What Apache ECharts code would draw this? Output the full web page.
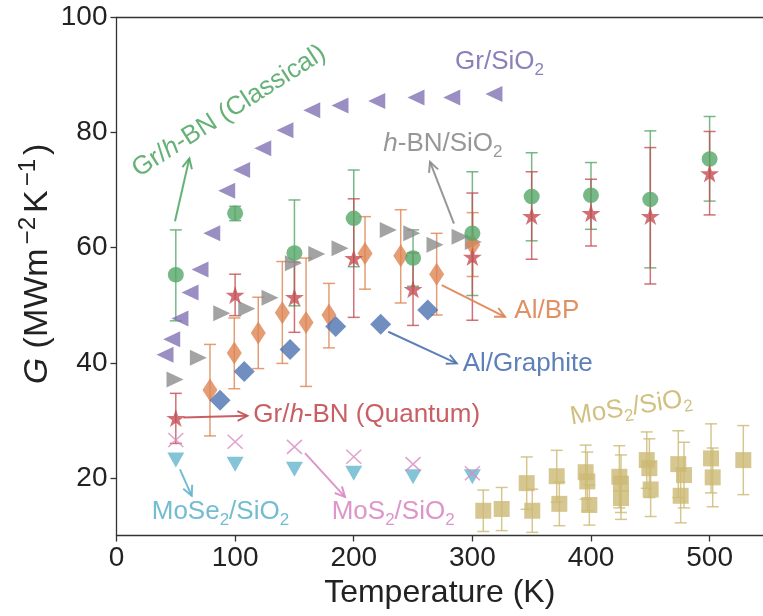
<!DOCTYPE html>
<html><head><meta charset="utf-8">
<script src="https://cdn.jsdelivr.net/npm/echarts@6/dist/echarts.min.js"></script>
<style>html,body{margin:0;padding:0;background:#fff}#c{width:763px;height:616px}</style>
</head><body><div id="c"></div>
<script>
// ---------------- data ----------------
const xTicks = [0, 100, 200, 300, 400, 500];
const yTicks = [20, 40, 60, 80, 100];

// Gr/SiO2 (purple, left triangles)
const grSiO2T = [40.9, 46.5, 53.5, 62.0, 70.4, 80.3, 92.9, 105.5, 123.3, 142.0, 164.6, 188.4, 219.4, 252.5, 282.6, 318.2];
const grSiO2G = [41.4, 44.1, 47.7, 52.2, 56.2, 62.5, 69.9, 73.5, 77.3, 80.4, 83.9, 84.7, 85.5, 86.1, 86.1, 86.7];

// h-BN/SiO2 (gray, right triangles)
const hbnT = [49.3, 69.0, 88.7, 109.8, 129.4, 149.1, 168.8, 188.4, 229.1, 248.9, 268.5, 289.6, 300.8];
const hbnG = [37.1, 40.9, 48.6, 49.4, 51.3, 57.3, 58.9, 59.9, 63.1, 62.5, 60.5, 61.9, 61.0];

// Al/BP (orange, thin diamonds)
const albpT = [78.8, 99.3, 119.5, 139.8, 159.8, 179.1, 209.5, 239.6, 269.9, 300.3];
const albpG = [35.3, 41.7, 45.2, 48.7, 47.0, 48.3, 59.0, 58.6, 55.4, 60.5];
const albpLo = [27.3, 35.5, 39.0, 39.9, 35.9, 42.6, 52.8, 50.4, 48.3, 55.0];
const albpHi = [43.2, 47.8, 51.4, 57.6, 58.2, 53.8, 65.4, 66.6, 62.5, 66.1];

// Al/Graphite (blue diamonds)
const algT = [87.3, 107.7, 146.3, 184.8, 222.7, 262.4];
const algG = [33.5, 38.5, 42.3, 46.3, 46.7, 49.2];

// Gr/h-BN (Classical) (green circles)
const clT = [50, 100, 150, 200, 250, 300, 350, 400, 450, 500];
const clG = [55.3, 66.0, 59.1, 65.1, 58.2, 62.5, 68.9, 69.1, 68.4, 75.4];
const clLo = [47.3, 64.7, 49.9, 56.7, 53.3, 51.7, 61.2, 63.2, 56.5, 68.1];
const clHi = [63.1, 67.2, 68.3, 73.5, 63.1, 73.2, 76.5, 74.8, 80.3, 82.8];

// Gr/h-BN (Quantum) (red stars)
const qtT = [50, 100, 150, 200, 250, 300, 350, 400, 450, 500];
const qtG = [30.4, 51.8, 51.4, 58.2, 52.8, 58.4, 65.5, 66.0, 65.5, 72.9];
const qtLo = [26.0, 48.2, 45.3, 47.9, 46.5, 47.4, 58.0, 60.3, 53.7, 65.7];
const qtHi = [34.7, 55.4, 57.5, 68.5, 59.1, 69.5, 73.2, 71.9, 77.4, 80.2];

// MoSe2/SiO2 (cyan, down triangles)
const mose2T = [50, 100, 150, 200, 250, 300];
const mose2G = [23.1, 22.4, 21.5, 20.8, 20.2, 20.2];

// MoS2/SiO2 low T (pink x)
const mos2LT = [50, 100, 150, 200, 250, 300];
const mos2LG = [26.6, 26.3, 25.4, 23.7, 22.4, 20.8];

// MoS2/SiO2 high T (olive squares)
const mos2HT = [309.2, 324.7, 345.8, 350.5, 371.1, 373.3, 395.5, 396.9, 398.6, 423.9, 425.3, 425.3, 447.0, 449.2, 450.3, 473.6, 478.4, 475.6, 501.2, 502.6, 528.4];
const mos2HG = [14.3, 14.6, 19.1, 14.3, 20.3, 15.5, 21.0, 19.4, 15.3, 20.2, 19.0, 16.5, 23.1, 21.7, 18.0, 22.4, 20.5, 16.9, 23.4, 20.1, 23.1];
const mos2HE = [3.6, 3.75, 4.55, 3.75, 4.5, 3.8, 4.7, 5.1, 3.5, 5.4, 5.0, 3.7, 4.9, 5.1, 4.7, 5.8, 5.7, 4.7, 6.0, 5.1, 6.0];

// axis titles and annotation texts
const xTitle = 'Temperature (K)';
const yTitle = '{it|G} (MWm{sup|\u22122}K{sup|\u22121})';
const labels = {
  classical: 'Gr/{i|h}-BN (Classical)',
  grsio2: 'Gr/SiO{s|2}',
  hbn: '{i|h}-BN/SiO{s|2}',
  albp: 'Al/BP',
  alg: 'Al/Graphite',
  quantum: 'Gr/{i|h}-BN (Quantum)',
  mose2: 'MoSe{s|2}/SiO{s|2}',
  mos2L: 'MoS{s|2}/SiO{s|2}',
  mos2H: 'MoS{s|2}/SiO{s|2}'
};

// ---------------- styling ----------------
const FONT = '"Liberation Sans", Arial, Helvetica, sans-serif';
const C = {
  blue: '#4C72B0', orange: '#DD8452', green: '#55A868', red: '#C44E52',
  purple: '#8172B3', gray: '#8C8C8C', pink: '#DA8BC3', olive: '#CCB974', cyan: '#64B5CD'
};
const STAR = 'path://M100,0 L122.45,69.1 L195.11,69.1 L136.33,111.8 L158.78,180.9 L100,138.2 L41.22,180.9 L63.67,111.8 L4.89,69.1 L77.55,69.1 Z';
const TRI_L = 'path://M0,50 L100,0 L100,100 Z';
const TRI_R = 'path://M100,50 L0,0 L0,100 Z';
const TRI_D = 'path://M0,0 L100,0 L50,100 Z';
const XMARK = 'path://M0,0 L100,100 M100,0 L0,100';
const ALPHA = 0.8;

function pts(T, G) { return T.map((t, i) => [t, G[i]]); }

function scatter(name, T, G, symbol, size, color, extra) {
  return Object.assign({
    type: 'scatter', name, data: pts(T, G), symbol, symbolSize: size,
    itemStyle: { color, opacity: ALPHA }, silent: true
  }, extra || {});
}

function errBars(name, T, lo, hi, color) {
  return {
    type: 'custom', name, silent: true,
    data: T.map((t, i) => [t, lo[i], hi[i]]),
    encode: { x: 0, y: [1, 2] },
    renderItem: function (params, api) {
      const a = api.coord([api.value(0), api.value(1)]);
      const b = api.coord([api.value(0), api.value(2)]);
      const w = 6;
      const st = { stroke: color, lineWidth: 1.5, opacity: ALPHA };
      return {
        type: 'group', children: [
          { type: 'line', shape: { x1: a[0], y1: a[1], x2: b[0], y2: b[1] }, style: st },
          { type: 'line', shape: { x1: a[0] - w, y1: a[1], x2: a[0] + w, y2: a[1] }, style: st },
          { type: 'line', shape: { x1: b[0] - w, y1: b[1], x2: b[0] + w, y2: b[1] }, style: st }
        ]
      };
    }
  };
}

const chart = echarts.init(document.getElementById('c'), null, { renderer: 'canvas' });

const axisLineStyle = { color: '#333', width: 1.3 };
const option = {
  animation: false,
  backgroundColor: '#fff',
  grid: { left: 116.5, right: 0, top: 17.5, bottom: 80.5, containLabel: false, outerBoundsMode: 'none' },
  xAxis: [{
    type: 'value', min: 0, max: 545, position: 'bottom',
    axisLine: { show: true, lineStyle: axisLineStyle },
    axisTick: { show: true, length: 6, lineStyle: axisLineStyle, customValues: xTicks },
    axisLabel: { fontSize: 28, fontFamily: FONT, color: '#222', margin: 9, customValues: xTicks },
    splitLine: { show: false },
    name: xTitle, nameLocation: 'middle', nameGap: 32,
    nameTextStyle: { fontSize: 32, fontFamily: FONT, color: '#222' }
  }, {
    type: 'value', min: 0, max: 545, position: 'top',
    axisLine: { show: true, lineStyle: axisLineStyle },
    axisTick: { show: false }, axisLabel: { show: false }, splitLine: { show: false }
  }],
  yAxis: [{
    type: 'value', min: 10, max: 100,
    axisLine: { show: true, lineStyle: axisLineStyle },
    axisTick: { show: true, length: 6, lineStyle: axisLineStyle, customValues: yTicks },
    axisLabel: { fontSize: 28, fontFamily: FONT, color: '#222', margin: 9, customValues: yTicks },
    splitLine: { show: false }
  }],
  series: [
    scatter('Gr/SiO2', grSiO2T, grSiO2G, TRI_L, [17, 16], C.purple),
    scatter('h-BN/SiO2', hbnT, hbnG, TRI_R, [17, 16], C.gray),
    errBars('Al/BP err', albpT, albpLo, albpHi, C.orange),
    scatter('Al/BP', albpT, albpG, 'diamond', [15, 23], C.orange),
    scatter('Al/Graphite', algT, algG, 'diamond', [21, 21], C.blue),
    errBars('Classical err', clT, clLo, clHi, C.green),
    scatter('Gr/h-BN (Classical)', clT, clG, 'circle', [16, 15.5], C.green),
    errBars('Quantum err', qtT, qtLo, qtHi, C.red),
    scatter('Gr/h-BN (Quantum)', qtT, qtG, STAR, [19, 18], C.red),
    scatter('MoSe2/SiO2', mose2T, mose2G, TRI_D, [17, 15], C.cyan),
    scatter('MoS2/SiO2 low', mos2LT, mos2LG, XMARK, [15, 14], C.pink,
      { itemStyle: { color: 'rgba(0,0,0,0)', borderColor: C.pink, borderWidth: 1.5, opacity: ALPHA } }),
    errBars('MoS2 err', mos2HT, mos2HT.map((t, i) => mos2HG[i] - mos2HE[i]), mos2HT.map((t, i) => mos2HG[i] + mos2HE[i]), C.olive),
    scatter('MoS2/SiO2 high', mos2HT, mos2HG, 'rect', [16, 16], C.olive)
  ]
};
chart.setOption(option);

// ---------------- annotations (data coordinates) ----------------
const annots = [
  { key: 'classical', at: [94.8, 83.7], rot: 32.5, color: C.green, align: 'center' },
  { key: 'grsio2', at: [285.4, 92.3], rot: 0, color: C.purple, align: 'left' },
  { key: 'hbn', at: [224.9, 78.0], rot: 0, color: C.gray, align: 'left' },
  { key: 'albp', at: [335.4, 49.0], rot: 0, color: C.orange, align: 'left' },
  { key: 'alg', at: [291.8, 39.8], rot: 0, color: C.blue, align: 'left' },
  { key: 'quantum', at: [115.3, 30.9], rot: 0, color: C.red, align: 'left' },
  { key: 'mose2', at: [29.7, 14.1], rot: 0, color: C.cyan, align: 'left' },
  { key: 'mos2L', at: [181.4, 14.1], rot: 0, color: C.pink, align: 'left' },
  { key: 'mos2H', at: [433.8, 32.2], rot: 9, color: C.olive, align: 'center' }
];
const arrows = [
  { from: [49.3, 64.6], to: [61.4, 75.5], color: C.green },
  { from: [284.5, 64.2], to: [264.3, 74.9], color: C.gray },
  { from: [274.2, 53.5], to: [327.5, 48.0], color: C.orange },
  { from: [229.1, 45.4], to: [286.8, 39.9], color: C.blue },
  { from: [56.3, 30.5], to: [110.3, 30.8], color: C.red },
  { from: [53.5, 21.5], to: [63.4, 16.9], color: C.cyan },
  { from: [158.9, 24.3], to: [192.6, 16.7], color: C.pink }
];

const graphics = [];
// y-axis title (rotated)
graphics.push({
  type: 'text', x: 38, y: 264, rotation: Math.PI / 2, silent: true, z: 100,
  style: {
    text: yTitle, fill: '#222', font: '34px ' + FONT, align: 'center', verticalAlign: 'middle',
    rich: {
      it: { font: 'italic 34px ' + FONT, fill: '#222' },
      sup: { font: '24px ' + FONT, fill: '#222', padding: [0, 4, 20, 4] }
    }
  }
});
annots.forEach(a => {
  const p = chart.convertToPixel({ gridIndex: 0 }, a.at);
  graphics.push({
    type: 'text', x: p[0], y: p[1], rotation: a.rot * Math.PI / 180, z: 100, silent: true,
    style: {
      text: labels[a.key], fill: a.color, opacity: 0.9,
      font: '26px ' + FONT, align: a.align, verticalAlign: 'middle',
      rich: {
        i: { font: 'italic 26px ' + FONT, fill: a.color },
        s: { font: '17px ' + FONT, fill: a.color, padding: [16, 0, 0, 0] }
      }
    }
  });
});
arrows.forEach(r => {
  const a = chart.convertToPixel({ gridIndex: 0 }, r.from);
  const b = chart.convertToPixel({ gridIndex: 0 }, r.to);
  const th = Math.atan2(b[1] - a[1], b[0] - a[0]);
  const L = 11, ang = 0.46;
  const h1 = [b[0] - L * Math.cos(th - ang), b[1] - L * Math.sin(th - ang)];
  const h2 = [b[0] - L * Math.cos(th + ang), b[1] - L * Math.sin(th + ang)];
  const st = { stroke: r.color, lineWidth: 2, opacity: 0.9, fill: 'none' };
  graphics.push({ type: 'line', z: 100, silent: true, shape: { x1: a[0], y1: a[1], x2: b[0], y2: b[1] }, style: st });
  graphics.push({ type: 'polyline', z: 100, silent: true, shape: { points: [h1, b, h2] }, style: st });
});
chart.setOption({ graphic: graphics });
</script></body></html>
